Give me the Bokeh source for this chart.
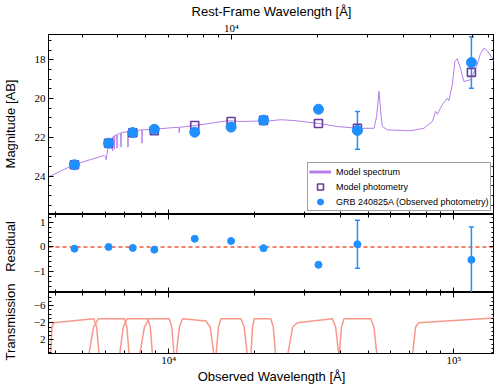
import numpy as np
from bokeh.plotting import figure
from bokeh.models import (Range1d, LogAxis, LinearAxis, FixedTicker, SingleIntervalTicker,
                          LogScale, ColumnDataSource, Whisker, TeeHead, Span, Legend, LegendItem)
from bokeh.layouts import column, row
from bokeh.embed import file_html
from bokeh.resources import INLINE
from bokeh.core.properties import value

REDSHIFT = 0.659

# ---- model spectrum (observed wavelength [Angstrom], AB magnitude)
spec_wave = [3800, 4200, 4670, 5300, 5950, 6010, 6034, 6060, 6120, 6194, 6285, 6301, 6317,
             6346, 6362, 6378, 6436, 6452, 6468, 6570, 6586, 6602, 6714, 6789, 6805, 6821,
             7184, 7200, 7216, 7997, 8049, 8065, 8081, 8904, 10462, 10870, 10888, 10906,
             12291, 14062, 16090, 17915, 22807, 24720, 27530, 33510, 39060, 45900, 52480,
             53600, 54630, 55600, 56150, 58460, 70540, 78520, 84040, 86300, 87490, 91070,
             94830, 96050, 98720, 100800, 102800, 105500, 108400, 114400, 120100, 124000,
             127400, 131500, 138800]
spec_mag = [24.03, 23.72, 23.40, 23.15, 22.93, 22.98, 23.15, 22.95, 22.60, 22.38, 22.12, 22.60,
            22.08, 22.00, 22.70, 21.97, 21.92, 22.60, 21.90, 21.86, 22.55, 21.85, 21.80, 21.77,
            22.50, 21.76, 21.70, 22.50, 21.70, 21.62, 21.61, 22.30, 21.61, 21.58, 21.49, 21.48,
            21.75, 21.48, 21.39, 21.27, 21.14, 21.18, 21.14, 21.09, 21.13, 21.28, 21.44, 21.53,
            21.53, 20.92, 19.63, 20.92, 21.44, 21.61, 21.66, 21.53, 21.18, 20.66, 20.80, 20.32,
            19.98, 20.11, 19.29, 18.09, 17.95, 18.45, 19.12, 19.03, 18.35, 17.68, 17.40, 17.57,
            18.09]

# ---- photometry
band_wave = [4673, 6155, 7482, 8904, 12340, 16550, 21510, 33510, 45900, 115200]
obs_mag = [23.41, 22.30, 21.75, 21.58, 21.73, 21.47, 21.11, 20.55, 21.64, 18.14]
obs_err = [0.04, 0.03, 0.03, 0.03, 0.05, 0.05, 0.05, 0.05, 0.97, 1.33]
model_mag = [23.41, 22.30, 21.76, 21.66, 21.39, 21.18, 21.12, 21.28, 21.53, 18.65]
residual = [-0.07, 0.00, -0.04, -0.11, 0.33, 0.24, -0.05, -0.72, 0.11, -0.52]

# ---- filter transmission curves (edges in Angstrom, plateau level on the transmission axis)
filt_names = ["g", "r", "i", "z", "J", "H", "Ks", "W1", "W2", "W3"]
filt_rise_start = [3850, 5232, 6714, 7890, 10606, 14640, 19420, 26070, 39550, 71470]
filt_rise_mid = [3900, 5450, 6930, 8220, 10900, 14950, 19680, 27200, 40370, 73400]
filt_rise_end = [3955, 5670, 7145, 8553, 11190, 15250, 19950, 28270, 41190, 75310]
filt_fall_start = [5463, 6993, 8443, 10050, 13510, 17915, 22800, 37490, 51080, 150000]
filt_fall_mid = [5590, 7135, 8615, 10255, 13980, 18400, 23270, 38500, 52450, 155000]
filt_fall_end = [5715, 7278, 8790, 10460, 14450, 18900, 23750, 39550, 53820, 160000]
filt_top_blue = [-2.0, -2.95, -2.95, -2.95, -2.95, -2.95, -2.95, -2.0, -2.95, -2.0]
filt_top_red = [-2.95, -2.95, -2.95, -2.95, -2.4, -2.95, -2.95, -2.95, -2.95, -3.25]
filt_mid_level = -1.0
filt_zero = 6.0

# ---- ticks
obs_ticks_major = [1e4, 1e5]
obs_ticks_minor = [4000, 5000, 6000, 7000, 8000, 9000,
                   20000, 30000, 40000, 50000, 60000, 70000, 80000, 90000]
obs_tick_labels = {10000: "10\u2074", 100000: "10\u2075"}
rest_ticks_major = [1e4]
rest_ticks_minor = [3000, 4000, 5000, 6000, 7000, 8000, 9000,
                    20000, 30000, 40000, 50000, 60000, 70000, 80000]
rest_tick_labels = {10000: "10\u2074"}

BLUE = "#1e90ff"
PURPLE_DARK = "#6a3d9a"
PURPLE_LINE = "#b57ee8"
RED = "#f05a3a"
SALMON = "#f7998a"

X0, X1 = 3790, 138800
xr = Range1d(X0, X1)

FW = 446
H1, H2, H3 = 180, 78, 61
TOP_B, BOT_B = 33, 33
LEFT_B = 26
LAB_W = 22


def make_fig(h, yr, top, bottom):
    p = figure(x_axis_type="log", x_range=xr, y_range=yr, frame_width=FW, frame_height=h,
               x_axis_location=None, y_axis_location=None, output_backend="svg",
               toolbar_location=None, min_border_left=LEFT_B, min_border_right=0,
               min_border_top=top, min_border_bottom=bottom)
    p.grid.visible = False
    p.outline_line_color = "black"
    p.outline_line_width = 1
    p.background_fill_color = "white"
    p.border_fill_color = "white"
    return p


def make_axis(cls, ticker, labels, overrides=None, label=None, **kw):
    ax = cls(ticker=ticker, **kw)
    ax.major_tick_in = 5
    ax.major_tick_out = 0
    ax.minor_tick_in = 3
    ax.minor_tick_out = 0
    ax.axis_line_color = "black"
    ax.major_tick_line_color = "black"
    ax.minor_tick_line_color = "black"
    ax.major_label_text_font = "Liberation Serif"
    ax.major_label_text_color = "black"
    if labels:
        ax.major_label_text_font_size = "11px"
        ax.major_label_standoff = 3
    else:
        ax.major_label_text_font_size = "1px"
        ax.major_label_text_alpha = 0
        ax.major_label_standoff = 0
    if overrides:
        ax.major_label_overrides = overrides
    if label:
        ax.axis_label = label
        ax.axis_label_text_font = "Liberation Sans"
        ax.axis_label_text_font_size = "13px"
        ax.axis_label_text_font_style = "normal"
        ax.axis_label_text_color = "black"
    return ax


def obs_ticker():
    return FixedTicker(ticks=obs_ticks_major, minor_ticks=obs_ticks_minor)


# ================= top panel: SED =================
p1 = make_fig(H1, Range1d(25.97, 16.70), TOP_B, 0)
p1.extra_x_ranges = {"rest": Range1d(X0 / (1 + REDSHIFT), X1 / (1 + REDSHIFT))}
p1.extra_x_scales = {"rest": LogScale()}

top_ax = make_axis(LogAxis, FixedTicker(ticks=rest_ticks_major, minor_ticks=rest_ticks_minor),
                   True, rest_tick_labels, "Rest-Frame Wavelength [\u00c5]", x_range_name="rest")
top_ax.major_label_standoff = 1
top_ax.axis_label_standoff = 0
p1.add_layout(top_ax, "above")
p1.add_layout(make_axis(LogAxis, obs_ticker(), False), "below")
p1.add_layout(make_axis(LinearAxis, SingleIntervalTicker(interval=2, num_minor_ticks=4), True), "left")
p1.add_layout(make_axis(LinearAxis, SingleIntervalTicker(interval=2, num_minor_ticks=4), False), "right")

p1.line(spec_wave, spec_mag, line_color=PURPLE_LINE, line_width=1)
r_leg_line = p1.line([np.nan], [np.nan], line_color=PURPLE_LINE, line_width=3)
r_sq = p1.scatter(band_wave, model_mag, marker="square", size=8, fill_color=None,
                  line_color=PURPLE_DARK, line_width=1.6)
err_src = ColumnDataSource(dict(base=band_wave,
                                lower=[m - e for m, e in zip(obs_mag, obs_err)],
                                upper=[m + e for m, e in zip(obs_mag, obs_err)]))
p1.add_layout(Whisker(source=err_src, base="base", lower="lower", upper="upper",
                      dimension="height", line_color=BLUE, line_width=1.5,
                      upper_head=TeeHead(size=5, line_color=BLUE, line_width=1.5),
                      lower_head=TeeHead(size=5, line_color=BLUE, line_width=1.5)))
r_circ = p1.scatter(band_wave, obs_mag, marker="circle", size=10, fill_color=BLUE,
                    line_color=BLUE)

legend = Legend(items=[LegendItem(label="Model spectrum", renderers=[r_leg_line]),
                       LegendItem(label="Model photometry", renderers=[r_sq]),
                       LegendItem(label="GRB 240825A (Observed photometry)", renderers=[r_circ])],
                location=(259, 3), orientation="vertical", padding=1, spacing=0, margin=0,
                glyph_width=22, glyph_height=15, label_height=15, label_standoff=5,
                label_text_font="Liberation Sans", label_text_font_size="9px",
                label_text_color="black", border_line_color="#444444", border_line_width=1,
                background_fill_color="white", background_fill_alpha=1)
p1.add_layout(legend)

# ================= middle panel: residuals =================
p2 = make_fig(H2, Range1d(-1.84, 1.31), 0, 0)
p2.add_layout(make_axis(LogAxis, obs_ticker(), False), "above")
p2.add_layout(make_axis(LogAxis, obs_ticker(), False), "below")
p2.add_layout(make_axis(LinearAxis, SingleIntervalTicker(interval=1, num_minor_ticks=5), True,
                        {-1: "\u22121"}), "left")
p2.add_layout(make_axis(LinearAxis, SingleIntervalTicker(interval=1, num_minor_ticks=5), False), "right")
p2.add_layout(Span(location=0, dimension="width", line_color=RED, line_dash="4 3",
                   line_width=1.5, level="underlay"))
res_src = ColumnDataSource(dict(base=band_wave,
                                lower=[r - e for r, e in zip(residual, obs_err)],
                                upper=[r + e for r, e in zip(residual, obs_err)]))
p2.add_layout(Whisker(source=res_src, base="base", lower="lower", upper="upper",
                      dimension="height", line_color=BLUE, line_width=1.5,
                      upper_head=TeeHead(size=5, line_color=BLUE, line_width=1.5),
                      lower_head=TeeHead(size=5, line_color=BLUE, line_width=1.5)))
p2.scatter(band_wave, residual, marker="circle", size=7, fill_color=BLUE, line_color=BLUE)

# ================= bottom panel: transmission =================
p3 = make_fig(H3, Range1d(5.2, -9.1), 0, BOT_B)
p3.add_layout(make_axis(LogAxis, obs_ticker(), False), "above")
bot_ax = make_axis(LogAxis, obs_ticker(), True, obs_tick_labels, "Observed Wavelength [\u00c5]")
bot_ax.major_label_standoff = 0
bot_ax.axis_label_standoff = 0
p3.add_layout(bot_ax, "below")
tr_ticker = FixedTicker(ticks=[-6, -2, 2], minor_ticks=list(range(-9, 6)))
p3.add_layout(make_axis(LinearAxis, tr_ticker, True, {-6: "\u22126", -2: "\u22122"}), "left")
p3.add_layout(make_axis(LinearAxis, FixedTicker(ticks=[-6, -2, 2], minor_ticks=list(range(-9, 6))),
                        False), "right")

tr_xs, tr_ys = [], []
for i in range(len(filt_names)):
    tr_xs.append([filt_rise_start[i], filt_rise_mid[i], filt_rise_end[i],
                  filt_fall_start[i], filt_fall_mid[i], filt_fall_end[i]])
    tr_ys.append([filt_zero, filt_mid_level, filt_top_blue[i],
                  filt_top_red[i], filt_mid_level, filt_zero])
p3.multi_line(tr_xs, tr_ys, line_color=SALMON, line_width=1.5)

# ================= y-axis titles column =================
TOTAL_H = TOP_B + H1 + H2 + H3 + BOT_B
lab = figure(width=LAB_W, height=TOTAL_H, x_range=Range1d(0, 1), y_range=Range1d(0, TOTAL_H),
             min_border=0, x_axis_location=None, y_axis_location=None,
             output_backend="svg", toolbar_location=None)
lab.grid.visible = False
lab.outline_line_color = None
label_centers = [123.5, 246.0, 321.5]
lab.text(x=[0.45, 0.45, 0.45], y=[TOTAL_H - c for c in label_centers],
         text=["Magnitude [AB]", "Residual", "Transmission"], angle=np.pi / 2,
         text_align="center", text_baseline="middle", text_font=value("Liberation Sans"),
         text_font_size="13px", text_color="black")

layout = row(lab, column(p1, p2, p3))
open("out.html", "w").write(file_html(layout, INLINE))
